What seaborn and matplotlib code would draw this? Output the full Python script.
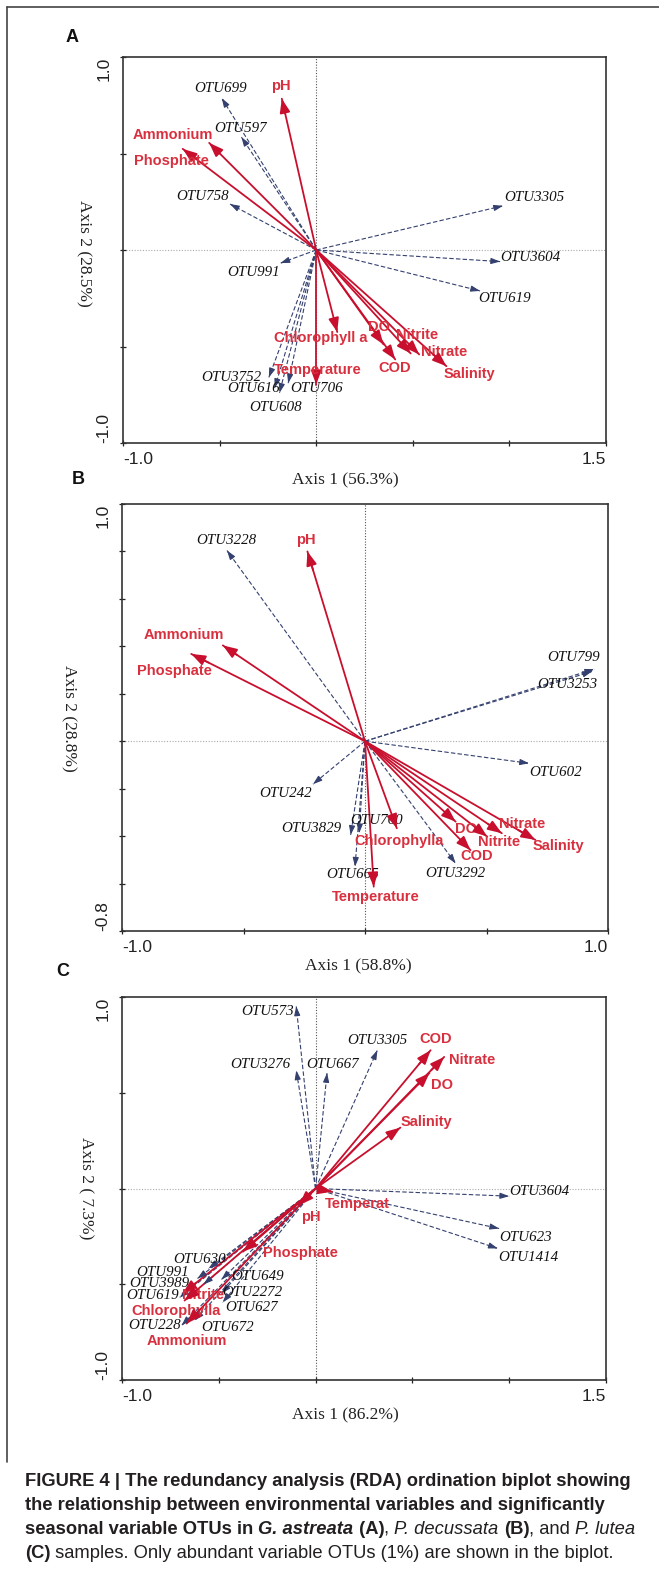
import numpy as np
import pandas as pd
import matplotlib
matplotlib.use("Agg")
import matplotlib.pyplot as plt
import seaborn as sns

# ------------------------------------------------------------------ data
# Panel A  (G. astreata)
a_env_names = ["pH", "Ammonium", "Phosphate", "Chlorophyll a", "Temperature",
               "DO", "COD", "Nitrite", "Nitrate", "Salinity"]
a_env_x = [-0.178, -0.554, -0.691, 0.109, 0.0, 0.348, 0.409, 0.489, 0.533, 0.674]
a_env_y = [0.784, 0.555, 0.524, -0.425, -0.697, -0.489, -0.567, -0.536, -0.541, -0.602]
a_otu_names = ["OTU699", "OTU597", "OTU758", "OTU3305", "OTU3604", "OTU619",
               "OTU991", "OTU3752", "OTU616", "OTU706", "OTU608"]
a_otu_x = [-0.489, -0.387, -0.446, 0.967, 0.952, 0.848, -0.185, -0.245, -0.215, -0.145, -0.190]
a_otu_y = [0.787, 0.585, 0.238, 0.229, -0.060, -0.212, -0.068, -0.660, -0.715, -0.690, -0.740]

# Panel B  (P. decussata)
b_env_names = ["pH", "Ammonium", "Phosphate", "Chlorophylla", "Temperature",
               "DO", "COD", "Nitrite", "Nitrate", "Salinity"]
b_env_x = [-0.237, -0.585, -0.715, 0.131, 0.036, 0.373, 0.434, 0.503, 0.563, 0.701]
b_env_y = [0.800, 0.404, 0.368, -0.367, -0.613, -0.339, -0.459, -0.402, -0.388, -0.416]
b_otu_names = ["OTU3228", "OTU799", "OTU3253", "OTU602", "OTU242",
               "OTU3829", "OTU760", "OTU665", "OTU3292"]
b_otu_x = [-0.568, 0.943, 0.934, 0.675, -0.214, -0.059, -0.024, -0.041, 0.373]
b_otu_y = [0.804, 0.304, 0.294, -0.093, -0.181, -0.395, -0.388, -0.529, -0.515]

# Panel C  (P. lutea)
c_env_names = ["COD", "Nitrate", "DO", "Salinity", "Temperat", "pH",
               "Phosphate", "Nitrite", "Chlorophylla", "Ammonium"]
c_env_x = [0.594, 0.664, 0.588, 0.438, 0.085, -0.085, -0.375, -0.687, -0.677, -0.666]
c_env_y = [0.722, 0.687, 0.603, 0.318, -0.017, -0.087, -0.330, -0.548, -0.585, -0.705]
c_otu_names = ["OTU573", "OTU3276", "OTU667", "OTU3305", "OTU3604", "OTU623",
               "OTU1414", "OTU630", "OTU991", "OTU3989", "OTU619", "OTU649",
               "OTU2272", "OTU627", "OTU672", "OTU228"]
c_otu_x = [-0.100, -0.100, 0.059, 0.319, 1.000, 0.948, 0.941, -0.553, -0.610,
           -0.579, -0.702, -0.486, -0.486, -0.480, -0.625, -0.692]
c_otu_y = [0.951, 0.617, 0.603, 0.722, -0.040, -0.209, -0.313, -0.418, -0.470,
           -0.501, -0.569, -0.475, -0.548, -0.595, -0.689, -0.715]

panel_letters = ["A", "B", "C"]
x_titles = ["Axis 1 (56.3%)", "Axis 1 (58.8%)", "Axis 1 (86.2%)"]
y_titles = ["Axis 2 (28.5%)", "Axis 2 (28.8%)", "Axis 2 ( 7.3%)"]
x_limits = [(-1.0, 1.5), (-1.0, 1.0), (-1.0, 1.5)]
y_limits = [(-1.0, 1.0), (-0.8, 1.0), (-1.0, 1.0)]
x_tick_labels = [["-1.0", "1.5"], ["-1.0", "1.0"], ["-1.0", "1.5"]]
y_tick_labels = [["-1.0", "1.0"], ["-0.8", "1.0"], ["-1.0", "1.0"]]
x_tick_steps = [0.5, 0.5, 0.5]
y_tick_steps = [0.5, 0.2, 0.5]

# ------------------------------------------------------------------ layout (label offsets, pixels)
env_offsets = [
    {"pH": (-1, 13), "Ammonium": (-36, 8), "Phosphate": (-11, -12), "Chlorophyll a": (-17, -6),
     "Temperature": (2, 15), "DO": (-4, 17), "COD": (-1, -9), "Nitrite": (6, 18),
     "Nitrate": (25, 2), "Salinity": (23, -8)},
    {"pH": (-2, 11), "Ammonium": (-39, 10), "Phosphate": (-17, -17), "Chlorophylla": (2, -13),
     "Temperature": (2, -10), "DO": (10, -7), "COD": (6, -6), "Nitrite": (12, -5),
     "Nitrate": (20, 9), "Salinity": (23, -6)},
    {"COD": (5, 11), "Nitrate": (28, -3), "DO": (13, -12), "Salinity": (26, 6),
     "Temperat": (25, -12), "pH": (12, -12), "Phosphate": (57, -1), "Nitrite": (20, -2),
     "Chlorophylla": (-8, -10), "Ammonium": (0, -17)},
]
otu_offsets = [
    {"OTU699": (-1, 10), "OTU597": (-1, 9), "OTU758": (-27, 8), "OTU3305": (31, 8),
     "OTU3604": (30, 4), "OTU619": (25, -8), "OTU991": (-27, -9), "OTU3752": (-38, 0),
     "OTU616": (-21, -1), "OTU706": (28, -5), "OTU608": (-4, -15)},
    {"OTU3228": (-1, 10), "OTU799": (-21, 12), "OTU3253": (-25, -13), "OTU602": (27, -9),
     "OTU242": (-27, -9), "OTU3829": (-39, 6), "OTU760": (17, 13), "OTU665": (-2, -8),
     "OTU3292": (0, -10)},
    {"OTU573": (-29, -5), "OTU3276": (-36, 6), "OTU667": (6, 9), "OTU3305": (0, 10),
     "OTU3604": (30, 5), "OTU623": (26, -9), "OTU1414": (31, -9), "OTU630": (-9, 9),
     "OTU991": (-35, 6), "OTU3989": (-44, 1), "OTU619": (-27, 2), "OTU649": (36, 3),
     "OTU2272": (31, 1), "OTU627": (29, -5), "OTU672": (33, -7), "OTU228": (-27, 0)},
]

W, H = 659, 1575
# axes boxes in pixels: left, right, top, bottom
boxes = [(123, 606, 57, 443), (122, 608, 504, 931), (122, 606, 997, 1380)]
letter_pos = [(72, 37), (78, 480), (63, 972)]
xlabel_pos = [(345, 480), (358, 966), (345, 1415)]
ylabel_pos = [(84, 253), (69, 718), (86, 1188)]

ENV_LINE = "#c8102e"
ENV_TEXT = "#d8303f"
OTU_LINE = "#34406e"

sns.set_theme(style="white")
plt.rcParams["font.family"] = ["Liberation Sans", "DejaVu Sans"]

fig = plt.figure(figsize=(W / 100, H / 100), dpi=100)

panels = [
    (a_env_names, a_env_x, a_env_y, a_otu_names, a_otu_x, a_otu_y),
    (b_env_names, b_env_x, b_env_y, b_otu_names, b_otu_x, b_otu_y),
    (c_env_names, c_env_x, c_env_y, c_otu_names, c_otu_x, c_otu_y),
]

for i, (en, ex, ey, on, ox, oy) in enumerate(panels):
    l, r, t, b = boxes[i]
    ax = fig.add_axes([l / W, 1 - b / H, (r - l) / W, (b - t) / H])
    ax.set_facecolor("white")

    # zero reference lines
    ax.axvline(0, color="#555555", lw=0.8, ls=(0, (1, 1.5)), zorder=0)
    ax.axhline(0, color="#aaaaaa", lw=0.8, ls=(0, (1, 1.5)), zorder=0)

    rows = []
    for n, x, y in zip(on, ox, oy):
        rows += [dict(name=n, kind="otu", x=0.0, y=0.0), dict(name=n, kind="otu", x=x, y=y)]
    for n, x, y in zip(en, ex, ey):
        rows += [dict(name=n, kind="env", x=0.0, y=0.0), dict(name=n, kind="env", x=x, y=y)]
    df = pd.DataFrame(rows)
    sns.lineplot(data=df, x="x", y="y", units="name", estimator=None, sort=False,
                 hue="kind", palette={"env": ENV_LINE, "otu": OTU_LINE},
                 style="kind", dashes={"env": "", "otu": (4, 2)},
                 size="kind", sizes={"env": 1.3, "otu": 0.8},
                 legend=False, ax=ax)

    # arrow heads
    for n, x, y in zip(on, ox, oy):
        ax.annotate("", xy=(x, y), xytext=(x * 0.96, y * 0.96),
                    arrowprops=dict(arrowstyle="-|>,head_length=0.45,head_width=0.15",
                                    color=OTU_LINE, lw=0.8, shrinkA=0, shrinkB=0))
        dx, dy = otu_offsets[i][n]
        ax.annotate(n, xy=(x, y), xytext=(dx, dy), textcoords="offset pixels",
                    ha="center", va="center", fontsize=10.8, style="italic",
                    family=["Liberation Serif", "DejaVu Serif"], color="#111111")
    for n, x, y in zip(en, ex, ey):
        ax.annotate("", xy=(x, y), xytext=(x * 0.9, y * 0.9),
                    arrowprops=dict(arrowstyle="-|>,head_length=0.7,head_width=0.26",
                                    color=ENV_LINE, lw=1.3, shrinkA=0, shrinkB=0))
        dx, dy = env_offsets[i][n]
        ax.annotate(n, xy=(x, y), xytext=(dx, dy), textcoords="offset pixels",
                    ha="center", va="center", fontsize=10.5, fontweight="bold",
                    color=ENV_TEXT)

    x0, x1 = x_limits[i]
    y0, y1 = y_limits[i]
    ax.set_xlim(x0, x1)
    ax.set_ylim(y0, y1)
    xt = np.round(np.arange(x0, x1 + 1e-9, x_tick_steps[i]), 2)
    yt = np.round(np.arange(y0, y1 + 1e-9, y_tick_steps[i]), 2)
    ax.set_xticks(xt)
    ax.set_yticks(yt)
    ax.set_xticklabels([x_tick_labels[i][0]] + [""] * (len(xt) - 2) + [x_tick_labels[i][1]])
    ax.set_yticklabels([y_tick_labels[i][0]] + [""] * (len(yt) - 2) + [y_tick_labels[i][1]],
                       rotation=90)
    ax.tick_params(axis="both", which="major", direction="inout", length=5, width=0.9,
                   colors="#222222", labelsize=12.5, bottom=True, left=True)
    ax.tick_params(axis="x", pad=4)
    ax.tick_params(axis="y", pad=6)
    xl = ax.get_xticklabels()
    xl[0].set_ha("left")
    xl[-1].set_ha("right")
    yl = ax.get_yticklabels()
    yl[0].set_va("bottom")
    yl[-1].set_va("top")
    ax.set_xlabel("")
    ax.set_ylabel("")
    for sp in ax.spines.values():
        sp.set_color("#333333")
        sp.set_linewidth(1.2)

    # axis titles / panel letters
    fx, fy = xlabel_pos[i]
    fig.text(fx / W, 1 - fy / H, x_titles[i], ha="center", va="center", fontsize=12.5,
             family=["Liberation Serif", "DejaVu Serif"], color="#222222")
    fx, fy = ylabel_pos[i]
    fig.text(fx / W, 1 - fy / H, y_titles[i], ha="center", va="center", fontsize=12.5,
             rotation=270, family=["Liberation Serif", "DejaVu Serif"], color="#222222")
    fx, fy = letter_pos[i]
    fig.text(fx / W, 1 - fy / H, panel_letters[i], ha="center", va="center", fontsize=13,
             fontweight="bold", color="#111111")

# frame lines (top and left edges of the figure box)
fig.add_artist(plt.Line2D([7 / W, 1.0], [1 - 7 / H, 1 - 7 / H], color="#444444", lw=1.2))
fig.add_artist(plt.Line2D([7 / W, 7 / W], [1 - 7 / H, 1 - 1462 / H], color="#444444", lw=1.2))

# caption with mixed styles
caption_lines = [
    [("FIGURE 4 | The redundancy analysis (RDA) ordination biplot showing", "bold", "normal")],
    [("the relationship between environmental variables and significantly", "bold", "normal")],
    [("seasonal variable OTUs in ", "bold", "normal"), ("G. astreata", "bold", "italic"),
     (" (A)", "bold", "normal"), (", ", "normal", "normal"), ("P. decussata", "normal", "italic"),
     (" ", "normal", "normal"), ("(B)", "bold", "normal"), (", and ", "normal", "normal"),
     ("P. lutea", "normal", "italic")],
    [("(C)", "bold", "normal"),
     (" samples. Only abundant variable OTUs (1%) are shown in the biplot.", "normal", "normal")],
]
caption_y = [1481, 1505, 1529, 1553]
cap_size = 13.2
renderer = fig.canvas.get_renderer()
for segs, cy in zip(caption_lines, caption_y):
    xpos = 25
    for txt, wt, st in segs:
        tt = fig.text(xpos / W, 1 - cy / H, txt, ha="left", va="center", fontsize=cap_size,
                      fontweight=wt, style=st, color="#231f20")
        bb = tt.get_window_extent(renderer=renderer)
        xpos += bb.width

fig.savefig("out.png", dpi=100, facecolor="white")
